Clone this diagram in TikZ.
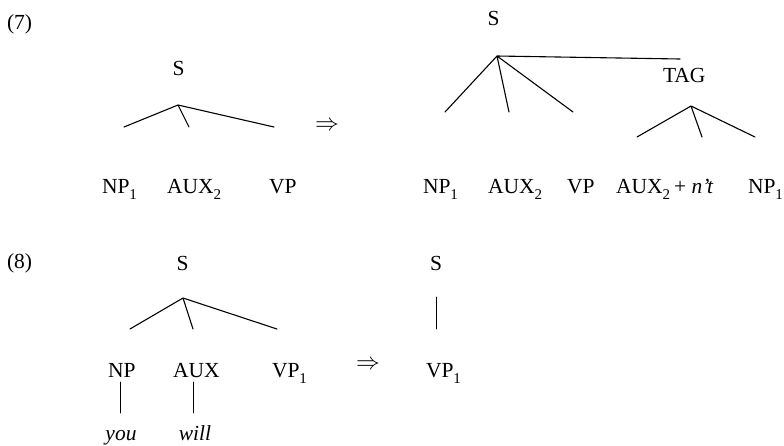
\documentclass[tikz,border=0pt]{standalone}
\usepackage{fontspec}
\usepackage{graphicx}
\setmainfont{Liberation Serif}
\newcommand\subn[1]{\raisebox{-0.28em}{\fontsize{15}{15}\selectfont #1}}
\newcommand\rarr{\scalebox{1.15}{$\Rightarrow$}}
\tikzset{
  lbl/.style={inner sep=0pt, outer sep=0pt, font=\fontsize{21.5}{24}\selectfont},
  br/.style={line width=1.1pt, line cap=round}
}
\begin{document}
\begin{tikzpicture}[x=1pt,y=-1pt]
\useasboundingbox (0,0) rectangle (784,445);
% ---------- (7) ----------
\node[lbl, anchor=base west] (n7) at (7,29) {(7)};
\node[lbl, anchor=base] (s7a) at (178.5,75) {S};
\coordinate (a7a) at (178,105);
\coordinate (l7a1) at (124,127);
\coordinate (l7a2) at (189,127);
\coordinate (l7a3) at (274,127);
\draw[br] (a7a) -- (l7a1) (a7a) -- (l7a2) (a7a) -- (l7a3);
\node[lbl, anchor=base west] (np7a) at (102,193) {NP\subn{1}};
\node[lbl, anchor=base west] (aux7a) at (167,193) {AUX\subn{2}};
\node[lbl, anchor=base west] (vp7a) at (269,193) {VP};
\node[lbl] (arr7) at (327,126) {\rarr};
% right tree
\node[lbl, anchor=base] (s7b) at (493.5,25) {S};
\coordinate (a7b) at (497,56);
\coordinate (l7b1) at (445,112);
\coordinate (l7b2) at (509,112);
\coordinate (l7b3) at (573,112);
\coordinate (l7b4) at (680,59);
\draw[br] (a7b) -- (l7b1) (a7b) -- (l7b2) (a7b) -- (l7b3) (a7b) -- (l7b4);
\node[lbl, anchor=base west] (tag) at (663,82) {TAG};
\coordinate (at) at (691,106);
\coordinate (lt1) at (637,137);
\coordinate (lt2) at (702,137);
\coordinate (lt3) at (755,137);
\draw[br] (at) -- (lt1) (at) -- (lt2) (at) -- (lt3);
\node[lbl, anchor=base west] (np7b) at (423,193) {NP\subn{1}};
\node[lbl, anchor=base west] (aux7b) at (488,193) {AUX\subn{2}};
\node[lbl, anchor=base west] (vp7b) at (567,193) {VP};
\node[lbl, anchor=base west] (aux7c) at (616,193) {AUX\subn{2}};
\node[lbl, anchor=base west] (nt) at (674,193) {+ \textit{n’t}};
\node[lbl, anchor=base west] (np7c) at (748,193) {NP\subn{1}};
% ---------- (8) ----------
\node[lbl, anchor=base west] (n8) at (7,268) {(8)};
\node[lbl, anchor=base] (s8a) at (182.5,270) {S};
\coordinate (a8a) at (183,298);
\coordinate (l8a1) at (130,329);
\coordinate (l8a2) at (193,329);
\coordinate (l8a3) at (277,329);
\draw[br] (a8a) -- (l8a1) (a8a) -- (l8a2) (a8a) -- (l8a3);
\node[lbl, anchor=base west] (np8) at (108,377) {NP};
\node[lbl, anchor=base west] (aux8) at (173,377) {AUX};
\node[lbl, anchor=base west] (vp8a) at (272,377) {VP\subn{1}};
\coordinate (v1t) at (120.5,382);
\coordinate (v1b) at (120.5,413);
\coordinate (v2t) at (193.5,382);
\coordinate (v2b) at (193.5,413);
\draw[br, line width=0.9pt] (v1t) -- (v1b) (v2t) -- (v2b);
\node[lbl, anchor=base] (you) at (121,440) {\textit{you}};
\node[lbl, anchor=base] (will) at (195,440) {\textit{will}};
\node[lbl] (arr8) at (368,365) {\rarr};
\node[lbl, anchor=base] (s8b) at (436,270) {S};
\coordinate (v3t) at (436.5,297);
\coordinate (v3b) at (436.5,329);
\draw[br, line width=0.9pt] (v3t) -- (v3b);
\node[lbl, anchor=base west] (vp8b) at (426,377) {VP\subn{1}};
\end{tikzpicture}
\end{document}
